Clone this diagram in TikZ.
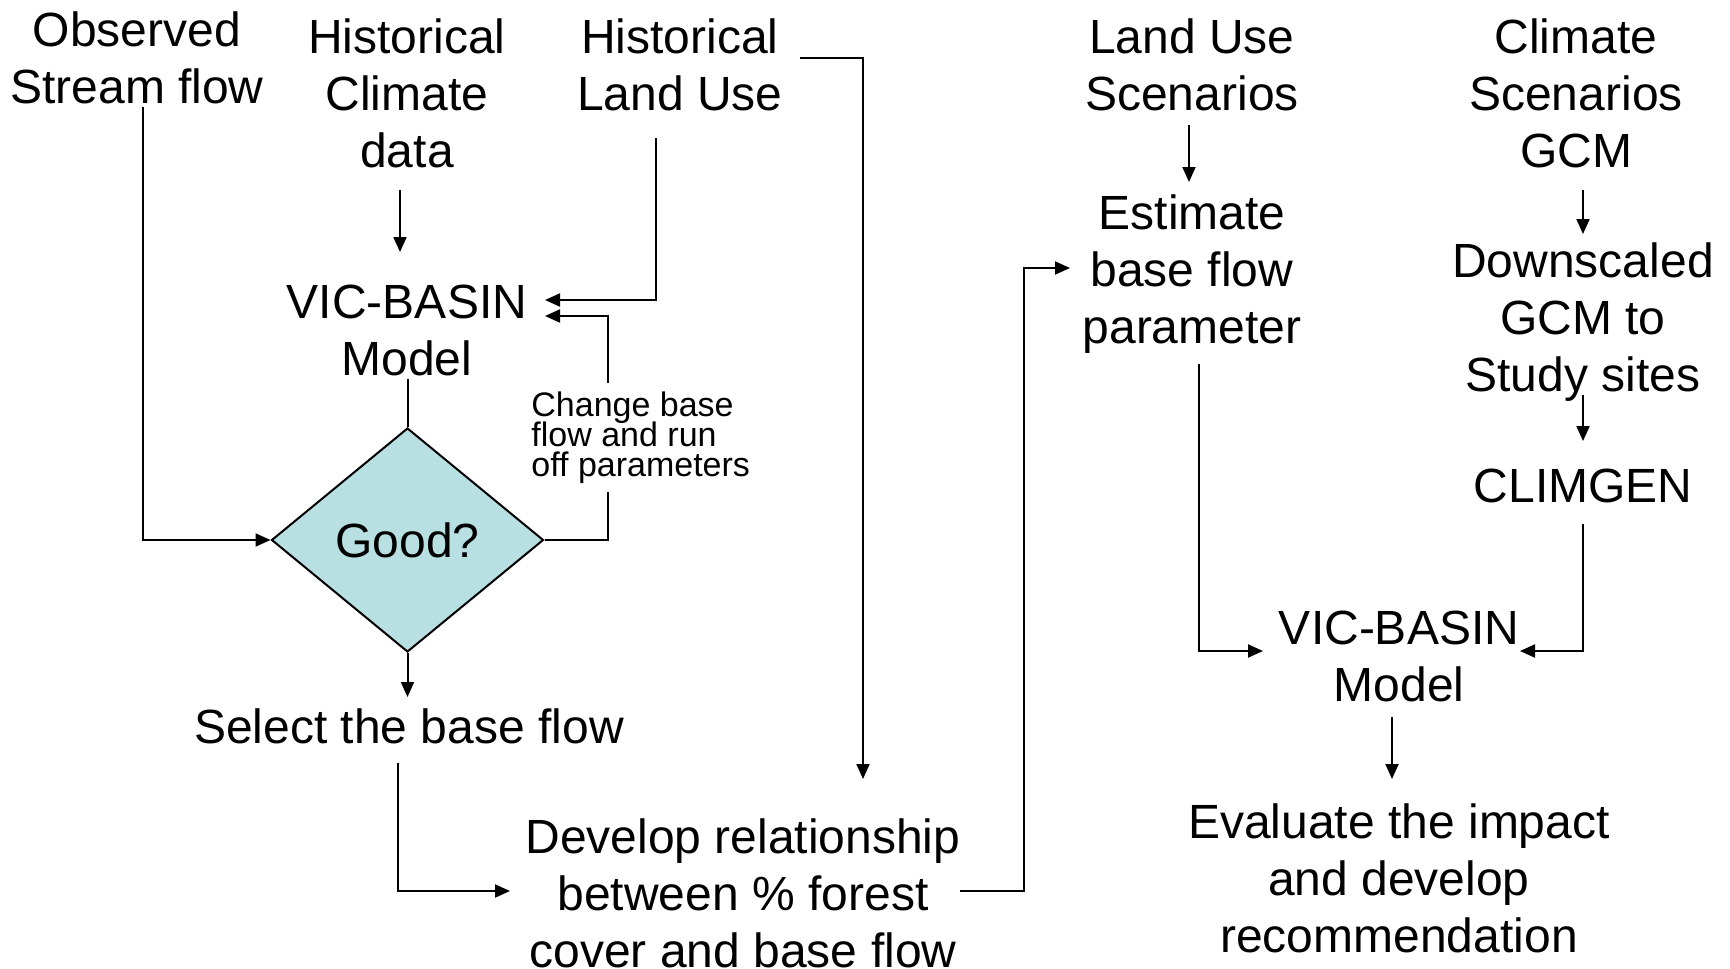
\documentclass[tikz,border=0pt]{standalone}
\usepackage{fontspec}
\setmainfont{Liberation Sans}
\usetikzlibrary{shapes.geometric,arrows.meta}
\definecolor{diafill}{RGB}{184,223,226}
\newcommand\mysmallfont{\fontsize{17}{15}\selectfont\setlength{\lineskiplimit}{-20pt}}
\tikzset{
  lbl/.style={align=center, inner sep=0pt, font=\fontsize{24}{28.5}\selectfont},
  smalllbl/.style={align=left, inner sep=0pt, font=\mysmallfont},
  conn/.style={line width=1pt, draw=black},
  arr/.style={conn, -{Triangle[length=7.5pt,width=6.5pt]}},
  decision/.style={diamond, draw=black, line width=1pt, fill=diafill, inner sep=0pt,
    minimum width=136pt, minimum height=112pt, font=\fontsize{24}{28.5}\selectfont}
}
\begin{document}
\begin{tikzpicture}[x=0.5pt,y=-0.5pt]
\useasboundingbox (0,0) rectangle (1730,969);
% nodes
\node[lbl] (obs) at (137,57.5) {Observed\\Stream flow};
\node[lbl] (hcl) at (407,93.5) {Historical\\Climate\\data};
\node[lbl] (hlu) at (680,65) {Historical\\Land Use};
\node[lbl] (lus) at (1192,65) {Land Use\\Scenarios};
\node[lbl] (csc) at (1576,93.5) {Climate\\Scenarios\\GCM};
\node[lbl] (est) at (1192,274) {Estimate\\base flow\\parameter};
\node[lbl] (dsc) at (1583,322) {Downscaled\\GCM to\\Study sites};
\node[lbl] (clg) at (1583,486) {CLIMGEN};
\node[lbl] (vic1) at (407,330) {VIC-BASIN\\Model};
\node[decision] (good) at (407.5,540) {Good?};
\node[smalllbl, anchor=west] (chg) at (531,438) {Change base\\flow and run\\off parameters};
\node[lbl] (sel) at (409,726) {Select the base flow};
\node[lbl] (dev) at (743,893) {Develop relationship\\between \% forest\\cover and base flow};
\node[lbl] (vic2) at (1399,656) {VIC-BASIN\\Model};
\node[lbl] (eva) at (1399,878.5) {Evaluate the impact\\and develop\\recommendation};
% connector end points
\coordinate (obsS) at (143,107);
\coordinate (hclS) at (400,190);
\coordinate (vic1T) at (400,252);
\coordinate (hluS) at (656,138);
\coordinate (vic1A) at (545,300);
\coordinate (vic1B) at (545,316);
\coordinate (fbLow) at (608,492);
\coordinate (fbHigh) at (608,383);
\coordinate (vic1S) at (407.5,379);
\coordinate (selN) at (407.5,697);
\coordinate (selS) at (398,763);
\coordinate (devW) at (510,891);
\coordinate (devE) at (960,891);
\coordinate (devR) at (1024,891);
\coordinate (estW) at (1070,268);
\coordinate (hluE) at (800,58);
\coordinate (devN) at (863,779);
\coordinate (lusS) at (1189,125);
\coordinate (estN) at (1189,182);
\coordinate (estS) at (1199,364);
\coordinate (vic2W) at (1263,651);
\coordinate (cscS) at (1583,190);
\coordinate (dscN) at (1583,234);
\coordinate (dscS) at (1583,395);
\coordinate (clgN) at (1583,441);
\coordinate (clgS) at (1583,524);
\coordinate (vic2E) at (1520,651);
\coordinate (vic2S) at (1392,717);
\coordinate (evaN) at (1392,779);
% connectors
\draw[arr] (obsS) |- (good.west);
\draw[arr] (hclS) -- (vic1T);
\draw[arr] (hluS) |- (vic1A);
\draw[conn] (good.east) -| (fbLow);
\draw[arr] (fbHigh) |- (vic1B);
\draw[conn] (vic1S) -- (good.north);
\draw[arr] (good.south) -- (selN);
\draw[arr] (selS) |- (devW);
\draw[arr] (devE) -- (devR) |- (estW);
\draw[arr] (hluE) -| (devN);
\draw[arr] (lusS) -- (estN);
\draw[arr] (estS) |- (vic2W);
\draw[arr] (cscS) -- (dscN);
\draw[arr] (dscS) -- (clgN);
\draw[arr] (clgS) |- (vic2E);
\draw[arr] (vic2S) -- (evaN);
\end{tikzpicture}
\end{document}
